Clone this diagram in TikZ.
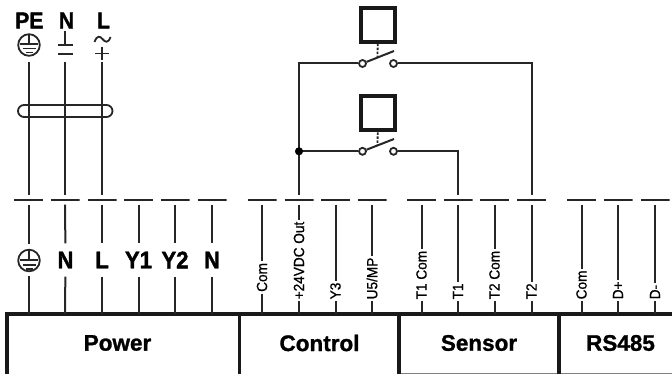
\documentclass[tikz,border=0pt]{standalone}
\usepackage{fontspec}
\setmainfont[BoldFeatures={FakeBold=1.2}]{Liberation Sans}
\newfontfamily\pinfont[BoldFeatures={FakeStretch=0.92,FakeBold=1.5}]{Liberation Sans}
\newfontfamily\sidefont[FakeStretch=0.92,FakeBold=0.8]{Liberation Sans}
\usetikzlibrary{calc}
\tikzset{
	wire/.style={line width=2pt, black!85},
	thin wire/.style={line width=1.8pt, black!85},
	term/.style={inner sep=0pt, minimum width=29pt, minimum height=9pt,
		path picture={\draw[line width=2.2pt, black!85] (path picture bounding box.west) -- (path picture bounding box.east);}},
	pin/.style={font=\fontsize{24}{24}\pinfont\bfseries, inner sep=0pt, minimum height=33pt, fill=white},
	side/.style={font=\fontsize{14.8}{14.8}\sidefont, rotate=90, anchor=west, inner sep=1.5pt, fill=white},
	title/.style={font=\fontsize{22.5}{22.5}\selectfont\bfseries, inner sep=0pt},
	feed/.style={font=\fontsize{23}{23}\pinfont\bfseries, inner sep=0pt},
	bar/.style={line width=3.2pt, black!90},
	coil/.style={draw=black!90, line width=4pt, minimum size=34pt, inner sep=0pt},
	contact/.style={circle, draw=black!85, line width=1.8pt, fill=white, minimum size=7pt, inner sep=0pt},
}
\begin{document}
\begin{tikzpicture}[x=1pt, y=-1pt]
	\useasboundingbox (0,0) rectangle (672,374);
	\def\ty{200} % y of the terminals
	\def\by{314} % y of the bar
	
	% terminals
	\node[term] (tPE) at (28.5,\ty) {};
	\node[term] (tN) at (65,\ty) {};
	\node[term] (tL) at (102,\ty) {};
	\node[term] (tYa) at (138.5,\ty) {};
	\node[term] (tYb) at (175,\ty) {};
	\node[term] (tNb) at (212,\ty) {};
	\node[term] (tCom) at (262,\ty) {};
	\node[term] (tOut) at (299,\ty) {};
	\node[term] (tYc) at (335.5,\ty) {};
	\node[term] (tU) at (372,\ty) {};
	\node[term] (tTaC) at (421.5,\ty) {};
	\node[term] (tTa) at (458,\ty) {};
	\node[term] (tTbC) at (494.5,\ty) {};
	\node[term] (tTb) at (531.5,\ty) {};
	\node[term] (tComb) at (581.5,\ty) {};
	\node[term] (tDp) at (618,\ty) {};
	\node[term] (tDm) at (655,\ty) {};
	
	% bar with the four blocks
	\coordinate (BL) at (7,374);
	\coordinate (TL) at (7,\by);
	\coordinate (TR) at (672,\by);
	\draw[bar, line width=0.9pt, black!50] (399,373) -- (672,373);
	\draw[bar, line width=3.8pt] (5.1,\by) -- (TR);
	\draw[bar] (BL) -- (TL);
	\draw[bar] (239.5,\by) -- (239.5,374);
	\draw[bar] (399,\by) -- (399,374);
	\draw[bar] (559,\by) -- (559,374);
	\node[title] (power) at (117.5,343) {Power};
	\node[title] (control) at (319.5,343) {Control};
	\node[title] (sensor) at (479,343) {Sensor};
	\node[title] (rs) at (620.5,343) {RS485};
	
	% earth symbol, lower
	\coordinate (gnd) at (29,260.5);
	\draw[wire] (tPE) -- (28.5,244);
	\draw[wire] (28.5,276) -- (28.5,\by);
	\draw[thin wire] (gnd) circle (10.8);
	\draw[thin wire] (29,250) -- (29,260) (20,260) -- (38,260) (22.5,265) -- (35.5,265) (25.5,269) -- (32.5,269);
	
	% power pins
	\node[pin] (pN) at (65.5,260) {N};
	\node[pin] (pL) at (102,260) {L};
	\node[pin] (pYa) at (138.5,260) {Y1};
	\node[pin] (pYb) at (175,260) {Y2};
	\node[pin] (pNb) at (212,260) {N};
	\draw[wire] (tN) -- (pN) -- (65,\by);
	\draw[wire] (tL) -- (pL) -- (102,\by);
	\draw[wire] (tYa) -- (pYa) -- (138.5,\by);
	\draw[wire] (tYb) -- (pYb) -- (175,\by);
	\draw[wire] (tNb) -- (pNb) -- (212,\by);
	
	% rotated labels
	\node[side] (sCom) at (262,293.5) {Com};
	\node[side] (sOut) at (299,301) {+24VDC Out};
	\node[side] (sYc) at (335.5,301) {Y3};
	\node[side] (sU) at (372,301) {U5/MP};
	\node[side] (sTaC) at (421.5,301) {T1 Com};
	\node[side] (sTa) at (458,301) {T1};
	\node[side] (sTbC) at (494.5,301) {T2 Com};
	\node[side] (sTb) at (531.5,301) {T2};
	\node[side] (sComb) at (581.5,301) {Com};
	\node[side] (sDp) at (618,301) {D+};
	\node[side] (sDm) at (655,301) {D-};
	\draw[wire] (tCom) -- (sCom) -- (262,\by);
	\draw[wire] (tOut) -- (sOut) -- (299,\by);
	\draw[wire] (tYc) -- (sYc) -- (335.5,\by);
	\draw[wire] (tU) -- (sU) -- (372,\by);
	\draw[wire] (tTaC) -- (sTaC) -- (421.5,\by);
	\draw[wire] (tTa) -- (sTa) -- (458,\by);
	\draw[wire] (tTbC) -- (sTbC) -- (494.5,\by);
	\draw[wire] (tTb) -- (sTb) -- (531.5,\by);
	\draw[wire] (tComb) -- (sComb) -- (581.5,\by);
	\draw[wire] (tDp) -- (sDp) -- (618,\by);
	\draw[wire] (tDm) -- (sDm) -- (655,\by);
	
	% mains feed at the top left
	\node[feed] (PE) at (29.3,20.5) {PE};
	\node[feed] (N) at (66.5,20.5) {N};
	\node[feed] (L) at (103.5,20.5) {L};
	\coordinate (PEtop) at (28.5,62);
	\coordinate (Ntop) at (65,62);
	\coordinate (Ltop) at (102,62);
	\draw[wire] (PEtop) -- (tPE);
	\draw[wire] (Ntop) -- (tN);
	\draw[wire] (Ltop) -- (tL);
	\draw[thin wire, rounded corners=6pt] (18,105) rectangle (112.5,117);
	\draw[thin wire] (29,45) circle (10.8);
	\draw[thin wire] (29,35) -- (29,44) (20,44) -- (38,44) (22.5,48.5) -- (35.5,48.5) (25.5,52.5) -- (32.5,52.5);
	\draw[thin wire] (65,31) -- (65,45) (58,45) -- (72.5,45) (58,54) -- (72.5,54);
	\draw[thin wire] (94.5,42) .. controls (97,35) and (100,36) .. (102.5,39) .. controls (105,42) and (108,44) .. (110.5,37);
	\draw[thin wire] (102,47) -- (102,60) (95,53.5) -- (109,53.5);
	
	% upper switch
	\node[coil] (coilA) at (378,24.7) {};
	\node[contact] (aL) at (362.5,63.5) {};
	\node[contact] (aR) at (393.5,63.5) {};
	\coordinate (aTip) at (394,51);
	\coordinate (aMid) at (377.5,58);
	\draw[wire] (aL) -- (aTip);
	\draw[thin wire, dash pattern=on 2.5pt off 1.5pt] (coilA) -- (aMid);
	
	% lower switch
	\node[coil] (coilB) at (378,113.3) {};
	\node[contact] (bL) at (362.5,151.3) {};
	\node[contact] (bR) at (393.5,151.3) {};
	\coordinate (bTip) at (394,139);
	\coordinate (bMid) at (377.5,145.8);
	\draw[wire] (bL) -- (bTip);
	\draw[thin wire, dash pattern=on 2.5pt off 1.5pt] (coilB) -- (bMid);
	
	% wiring of the switches
	\coordinate (J) at (299,151.3);
	\coordinate (JT) at (299,63.5);
	\coordinate (TR1) at (531.5,63.5);
	\coordinate (TR2) at (458,151.3);
	\draw[wire] (tOut) -- (J) -- (JT) -- (aL);
	\draw[wire] (J) -- (bL);
	\draw[wire] (aR) -- (TR1) -- (tTb);
	\draw[wire] (bR) -- (TR2) -- (tTa);
	\draw[fill=black] (J) circle (3.8);
\end{tikzpicture}
\end{document}
